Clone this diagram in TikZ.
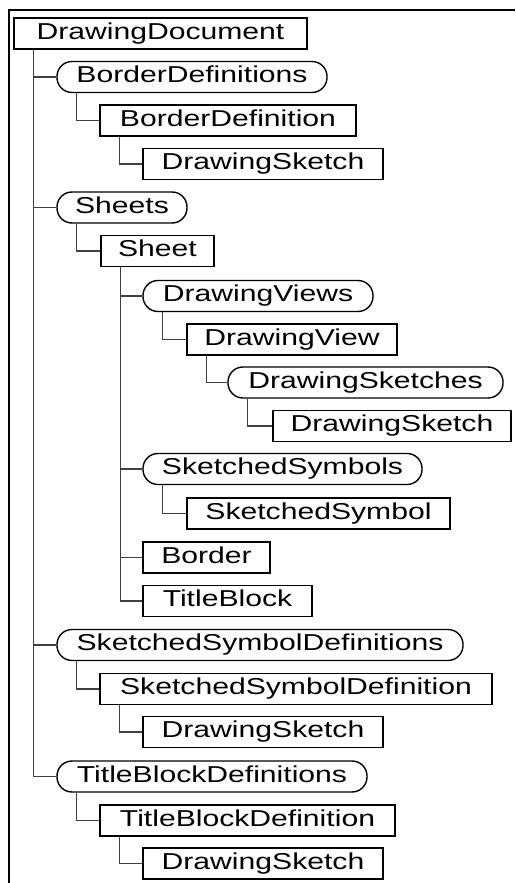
\documentclass[tikz,border=0pt]{standalone}
\usepackage{fontspec}
\newfontfamily\nodefont{Liberation Sans}[FakeStretch=1.31]
\begin{document}
\begin{tikzpicture}[x=1pt,y=-1pt,
  base/.style={inner sep=0pt, minimum height=31pt, text height=16.5pt, text depth=4.8pt,
    font=\nodefont\fontsize{23pt}{27pt}\selectfont, anchor=center},
  rbox/.style={base, draw=black, line width=1.8pt},
  pill/.style={base, draw=black, line width=1.4pt, rounded corners=15pt},
  conn/.style={draw=black!75, line width=1.1pt},
  frame/.style={draw=black, line width=1.5pt}]
\useasboundingbox (0,0) rectangle (515,883);
\coordinate (fa) at (9,883);
\coordinate (fb) at (9,10);
\coordinate (fc) at (515,10);
\draw[frame] (fa) -- (fb) -- (fc);

\node[rbox, minimum width=293pt] (n1)  at (160.5,33.5) {DrawingDocument};
\node[pill, minimum width=270pt] (n2)  at (192,77)   {BorderDefinitions};
\node[rbox, minimum width=256pt] (n3)  at (228,120.5) {BorderDefinition};
\node[rbox, minimum width=240pt] (n4)  at (263,164)  {DrawingSketch};
\node[pill, minimum width=130pt] (n5)  at (122,207.5) {Sheets};
\node[rbox, minimum width=113pt] (n6)  at (157.5,251) {Sheet};
\node[pill, minimum width=230pt] (n7)  at (258,296)  {DrawingViews};
\node[rbox, minimum width=210pt] (n8)  at (292,339.5) {DrawingView};
\node[pill, minimum width=275pt] (n9)  at (365.5,382.5) {DrawingSketches};
\node[rbox, minimum width=238pt] (n10) at (392,426)  {DrawingSketch};
\node[pill, minimum width=279pt] (n11) at (282.5,469) {SketchedSymbols};
\node[rbox, minimum width=263pt] (n12) at (318.5,513.5) {SketchedSymbol};
\node[rbox, minimum width=127pt] (n13) at (206.5,557.5) {Border};
\node[rbox, minimum width=169pt] (n14) at (227.5,601) {TitleBlock};
\node[pill, minimum width=406pt] (n15) at (260,645)  {SketchedSymbolDefinitions};
\node[rbox, minimum width=392pt] (n16) at (296,689)  {SketchedSymbolDefinition};
\node[rbox, minimum width=240pt] (n17) at (263,732)  {DrawingSketch};
\node[pill, minimum width=310pt] (n18) at (212,776.5) {TitleBlockDefinitions};
\node[rbox, minimum width=295pt] (n19) at (247.5,820.5) {TitleBlockDefinition};
\node[rbox, minimum width=240pt] (n20) at (263,863.5) {DrawingSketch};

\foreach \p/\c in {n1/n2, n1/n5, n1/n15, n1/n18, n2/n3, n3/n4, n5/n6,
  n6/n7, n6/n11, n6/n13, n6/n14, n7/n8, n8/n9, n9/n10, n11/n12,
  n15/n16, n16/n17, n18/n19, n19/n20}
  \draw[conn] ([xshift=20.5pt]\p.south west) |- (\c.west);
\end{tikzpicture}
\end{document}
